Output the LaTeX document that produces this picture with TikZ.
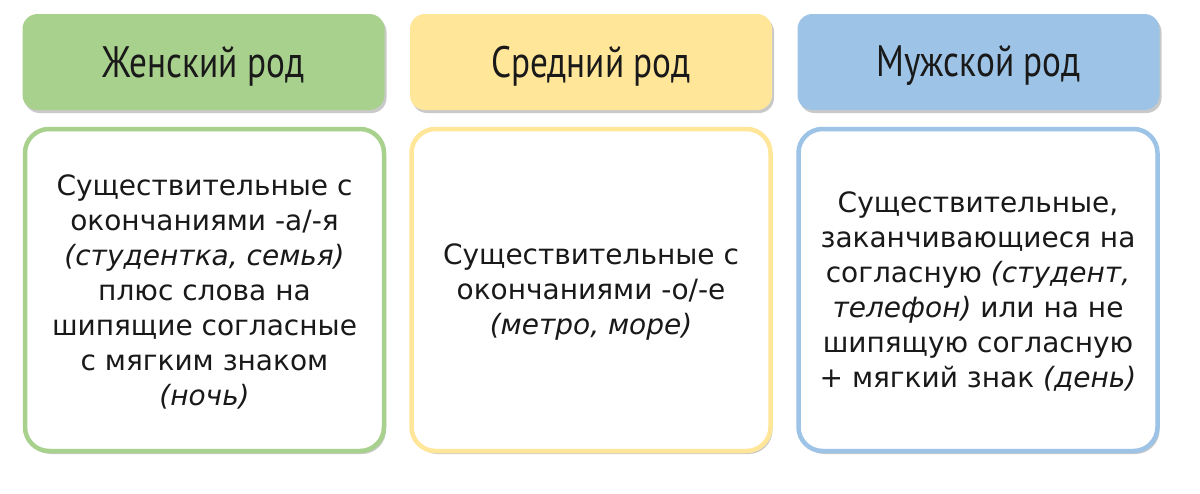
\documentclass[tikz,border=0pt]{standalone}
\usepackage{fontspec}
\setmainfont{DejaVu Sans}
\newfontfamily\headfont[FakeStretch=0.8]{PT Sans}
\usetikzlibrary{shadows}
\definecolor{gF}{HTML}{A9D18E}
\definecolor{yF}{HTML}{FFE699}
\definecolor{bF}{HTML}{9DC3E6}
\tikzset{
  shd/.style={drop shadow={shadow xshift=2pt,shadow yshift=-3pt,opacity=0.35,fill=black!60}},
  headbox/.style={shd,rounded corners=15pt,minimum width=362pt,minimum height=96pt,inner sep=0pt},
  headtext/.style={font=\headfont\fontsize{44}{48}\selectfont,text=black!90},
  bodybox/.style={shd,fill=white,line width=4.5pt,rounded corners=24pt,minimum width=359pt,minimum height=322pt,inner sep=0pt},
  bodytext/.style={align=center,font=\fontsize{28}{35}\selectfont,text=black!90}
}
\begin{document}
\begin{tikzpicture}[x=1pt,y=-1pt]
\useasboundingbox[fill=white] (0,0) rectangle (1200,493);
% headers
\node[headbox,fill=gF] (h1) at (203.5,62) {};
\node[headbox,fill=yF] (h2) at (591,62) {};
\node[headbox,fill=bF] (h3) at (978.5,62) {};
\node[headtext] (l1) at (203.5,66) {Женский род};
\node[headtext] (l2) at (591,66) {Средний род};
\node[headtext] (l3) at (978.5,66) {Мужской род};
% bodies
\node[bodybox,draw=gF] (b1) at (204.5,290) {};
\node[bodybox,draw=yF] (b2) at (591,290) {};
\node[bodybox,draw=bF] (b3) at (978,290) {};
\node[bodytext] (t1) at (204.5,292) {Существительные с\\окончаниями -а/-я\\\itshape(студентка, семья)\\плюс слова на\\шипящие согласные\\с мягким знаком\\\itshape(ночь)};
\node[bodytext] (t2) at (591,292) {Существительные с\\окончаниями -о/-е\\\itshape(метро, море)};
\node[bodytext] (t3) at (978,292) {Существительные,\\заканчивающиеся на\\согласную \textit{(студент,}\\\textit{телефон)} или на не\\шипящую согласную\\+ мягкий знак \textit{(день)}};
\end{tikzpicture}
\end{document}
